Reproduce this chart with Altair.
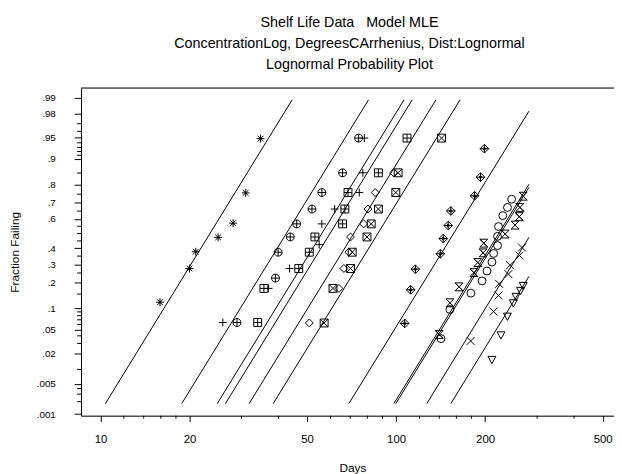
import altair as alt
import pandas as pd
from statistics import NormalDist

ND = NormalDist()

# ---------------- data ----------------
group_ids = ["A", "B", "C", "D", "E", "F", "G", "H", "I", "J", "K"]

days_A = [15.9, 20.0, 21.0, 25.0, 28.1, 31.0, 34.8]
frac_A = [0.120, 0.275, 0.378, 0.474, 0.571, 0.757, 0.948]
days_B = [28.96, 39.08, 39.9, 43.86, 46.11, 51.94, 56.09, 65.92, 74.7]
frac_B = [0.064, 0.223, 0.375, 0.477, 0.566, 0.663, 0.759, 0.851, 0.949]
days_C = [25.94, 37.03, 43.62, 54.95, 56.09, 61.99, 75.1, 77.2, 78.1]
frac_C = [0.064, 0.174, 0.275, 0.425, 0.566, 0.663, 0.759, 0.851, 0.949]
days_D = [34.03, 35.72, 46.86, 50.87, 53.15, 65.92, 67.1, 68.77, 87.14, 108.9]
frac_D = [0.064, 0.174, 0.275, 0.375, 0.477, 0.566, 0.663, 0.759, 0.851, 0.949]
days_E = [50.87, 64.09, 66.6, 69.22, 70.12, 77.66, 80.33, 84.96, 98.1]
frac_E = [0.063, 0.174, 0.275, 0.375, 0.477, 0.566, 0.663, 0.759, 0.851]
days_F = [57.1, 61.17, 70.12, 71.05, 79.72, 82.4, 87.14, 99.8, 101.6, 142.5]
frac_F = [0.063, 0.174, 0.275, 0.375, 0.477, 0.566, 0.663, 0.759, 0.851, 0.949]
days_G = [106.9, 112.0, 116.2, 141.1, 144.4, 150.1, 153.2, 184.3, 193.0, 199.0]
frac_G = [0.062, 0.168, 0.271, 0.365, 0.466, 0.555, 0.651, 0.741, 0.833, 0.927]
days_H = [140.0, 152.1, 163.3, 183.3, 189.0, 196.9, 198.0, 233.9, 252.6, 261.0, 262.4, 269.2]
frac_H = [0.042, 0.118, 0.181, 0.252, 0.310, 0.371, 0.435, 0.497, 0.558, 0.614, 0.673, 0.739]
days_I = [141.9, 152.1, 179.1, 195.4, 203.0, 211.0, 213.8, 220.4, 220.4, 222.1, 229.6, 238.1, 246.0]
frac_I = [0.036, 0.097, 0.154, 0.209, 0.261, 0.313, 0.367, 0.419, 0.481, 0.548, 0.621, 0.673, 0.722]
days_J = [178.7, 213.8, 222.1, 223.0, 239.9, 243.0, 261.4, 266.6]
frac_J = [0.033, 0.091, 0.145, 0.195, 0.244, 0.294, 0.354, 0.406]
days_K = [211.0, 226.4, 238.1, 249.3, 254.5, 263.6, 269.2]
frac_K = [0.0154, 0.041, 0.078, 0.117, 0.140, 0.164, 0.186]

# fitted lines: lower and upper end of each line
line_ids = ["A", "B", "C", "D", "E", "F", "G", "H", "I", "J", "K"]
line_lo_days = [10.39, 18.83, 24.83, 26.47, 31.83, 38.40, 69.2, 98.3, 99.8, 127.0, 153.2]
line_lo_frac = [0.0018] * 11
line_hi_days = [44.5, 80.7, 106.4, 113.4, 136.4, 164.6, 281.6, 281.6, 281.6, 281.6, 281.6]
line_hi_frac = [0.989, 0.989, 0.989, 0.989, 0.989, 0.989, 0.982, 0.801, 0.786, 0.474, 0.232]

# axis ticks
x_major = [10, 20, 50, 100, 200, 500]
x_minor = [12, 14, 16, 18, 30, 40, 60, 70, 80, 90, 120, 140, 160, 180, 300, 400]
y_major = [0.001, 0.005, 0.02, 0.05, 0.1, 0.2, 0.3, 0.4, 0.6, 0.7, 0.8, 0.9, 0.95, 0.98, 0.99]
y_major_labels = [".001", ".005", ".02", ".05", ".1", ".2", ".3", ".4", ".6", ".7", ".8", ".9", ".95", ".98", ".99"]
y_minor = [0.002, 0.003, 0.004, 0.01, 0.03, 0.04, 0.06, 0.07, 0.08, 0.09, 0.15, 0.25,
           0.35, 0.45, 0.5, 0.55, 0.65, 0.75, 0.85, 0.91, 0.92, 0.93, 0.94, 0.96, 0.97]

titles = ["Shelf Life Data\u00a0\u00a0\u00a0Model MLE",
          "ConcentrationLog, DegreesCArrhenius, Dist:Lognormal",
          "Lognormal Probability Plot"]

# ---------------- symbols ----------------
ASTER = "M-1,0H1M0,-1V1M-0.72,-0.72L0.72,0.72M-0.72,0.72L0.72,-0.72M-0.3,0H0.3M0,-0.3V0.3"
OPLUS = "M-1,0A1,1,0,1,1,1,0A1,1,0,1,1,-1,0ZM-1,0H1M0,-1V1"
PLUS = "M-1,0H1M0,-1V1"
BPLUS = "M-1,-1H1V1H-1ZM-1,0H1M0,-1V1"
DIAM = "M0,-1L1,0L0,1L-1,0Z"
BX = "M-1,-1H1V1H-1ZM-1,-1L1,1M-1,1L1,-1"
DDOT = "M0,-1.1L1.1,0L0,1.1L-1.1,0ZM-1.1,0H1.1M0,-1.1V1.1M0,-0.4L0.4,0L0,0.4L-0.4,0Z"
HOUR = "M-1,-1H1L-1,1H1ZM-1,-1L1,1"
CIRC = "circle"
XS = "M-1,-1L1,1M-1,1L1,-1"
TRI = "M-1,-0.85H1L0,1Z"
shape_range = [ASTER, OPLUS, PLUS, BPLUS, DIAM, BX, DDOT, HOUR, CIRC, XS, TRI]

# ---------------- tables ----------------
all_days = [days_A, days_B, days_C, days_D, days_E, days_F, days_G, days_H, days_I, days_J, days_K]
all_frac = [frac_A, frac_B, frac_C, frac_D, frac_E, frac_F, frac_G, frac_H, frac_I, frac_J, frac_K]
pts = []
for g, ds, fs in zip(group_ids, all_days, all_frac):
    for d, f in zip(ds, fs):
        pts.append({"grp": g, "days": d, "z": ND.inv_cdf(f)})
pts = pd.DataFrame(pts)

lines = []
for g, d0, f0, d1, f1 in zip(line_ids, line_lo_days, line_lo_frac, line_hi_days, line_hi_frac):
    lines.append({"grp": g, "days": d0, "z": ND.inv_cdf(f0), "o": 0})
    lines.append({"grp": g, "days": d1, "z": ND.inv_cdf(f1), "o": 1})
lines = pd.DataFrame(lines)

ymin_df = pd.DataFrame({"z": [ND.inv_cdf(p) for p in y_minor]})
xmin_df = pd.DataFrame({"days": x_minor})

W, H = 540, 332
X_DOM = [8.596, 546.0]
Y_DOM = [-3.1178, 2.4925]
FONT = "Liberation Sans"

y_vals = [ND.inv_cdf(p) for p in y_major]
expr = "'" + y_major_labels[-1] + "'"
for i in range(len(y_vals) - 2, -1, -1):
    thr = (y_vals[i] + y_vals[i + 1]) / 2
    expr = f"datum.value < {thr:.4f} ? '{y_major_labels[i]}' : ({expr})"

xs = alt.Scale(type="log", domain=X_DOM, nice=False)
ys = alt.Scale(type="linear", domain=Y_DOM, nice=False, zero=False)

x_axis = alt.Axis(values=x_major, format="d", title="Days", grid=False,
                  tickSize=6, labelPadding=12, labelFontSize=11.5, labelFont=FONT,
                  titleFont=FONT, titleFontSize=12, titleFontWeight="normal",
                  titleY=53, titleBaseline="middle", titleX=275,
                  domainColor="black", tickColor="black", labelColor="black",
                  titleColor="black", labelFlush=False, labelOverlap=False, labelBound=False)
y_axis = alt.Axis(values=y_vals, labelExpr=expr, title="Fraction Failing", grid=False,
                  tickSize=7, labelPadding=19, labelFontSize=10, labelFont=FONT,
                  titleFont=FONT, titleFontSize=12, titleFontWeight="normal",
                  titleX=-67, titleY=166, titleAngle=-90, titleBaseline="middle",
                  titleAlign="center",
                  domainColor="black", tickColor="black", labelColor="black",
                  titleColor="black", labelFlush=False, labelOverlap=False, labelBound=False)

X_ENC = alt.X("days:Q", scale=xs, axis=x_axis)
Y_ENC = alt.Y("z:Q", scale=ys, axis=y_axis)

base_lines = alt.Chart(lines).mark_line(color="black", strokeWidth=1).encode(
    x=X_ENC, y=Y_ENC, detail="grp:N", order="o:Q",
)

points = alt.Chart(pts).mark_point(color="black", filled=False, strokeWidth=1, size=64, opacity=1).encode(
    x=X_ENC, y=Y_ENC,
    shape=alt.Shape("grp:N", scale=alt.Scale(domain=group_ids, range=shape_range), legend=None),
)

yminor = alt.Chart(ymin_df).mark_rule(color="black", strokeWidth=1).encode(
    y=Y_ENC, x=alt.value(-4), x2=alt.value(0))
xminor = alt.Chart(xmin_df).mark_rule(color="black", strokeWidth=1).encode(
    x=X_ENC, y=alt.value(H), y2=alt.value(H + 3))
topline = alt.Chart(pd.DataFrame({"a": [0]})).mark_rule(color="black", strokeWidth=1).encode(
    x=alt.value(0), x2=alt.value(W), y=alt.value(0))

chart = alt.layer(base_lines, points, yminor, xminor, topline).properties(
    width=W, height=H,
    autosize=alt.AutoSizeParams(type="none"),
    padding={"left": 74, "top": 78, "right": 0, "bottom": 56},
    title=alt.TitleParams(text=titles, fontSize=14.5, font=FONT, fontWeight="normal",
                          lineHeight=21, anchor="middle", offset=15.5, dx=2, color="black"),
).configure_view(stroke="transparent").configure(background="white")

chart.save("out.html", embed_options={"renderer": "svg", "actions": False})
